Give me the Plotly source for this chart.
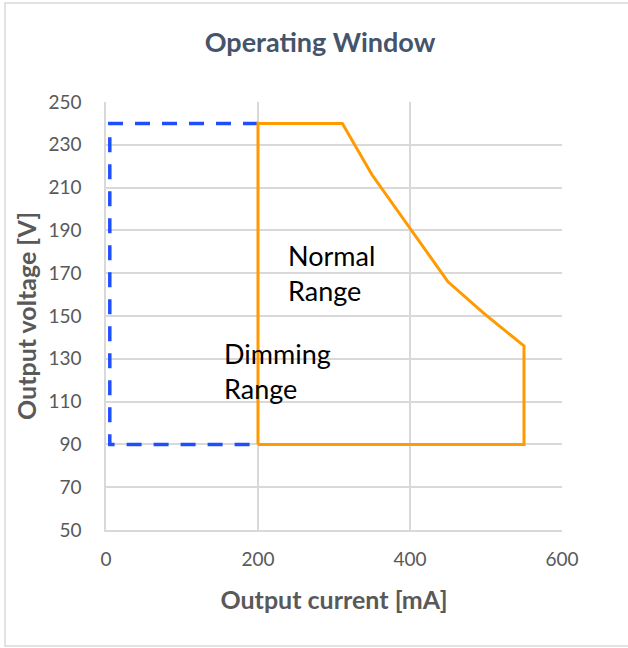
import plotly.graph_objects as go

# Data
normal_current = [200, 200, 311, 350, 450, 498, 550, 550, 200]
normal_voltage = [90, 240, 240, 216, 166, 151, 136, 90, 90]
dimming_current = [200, 5, 5, 200]
dimming_voltage = [240, 240, 90, 90]
x_ticks = [0, 200, 400, 600]
y_ticks = [50, 70, 90, 110, 130, 150, 170, 190, 210, 230, 250]

W, H = 628, 648
L, R, T, B = 106, 66, 102, 118
pw, ph = W - L - R, H - T - B

def px2paper_x(px):
    return (px - L) / pw

def px2paper_y(py):
    return (H - B - py) / ph

FONT = "Lato"
GRID = "#D9D9D9"
TXT = "#595959"

fig = go.Figure()
fig.add_trace(go.Scatter(
    x=dimming_current, y=dimming_voltage, mode="lines",
    line=dict(color="#1F4EFF", width=3.5, dash="15px,12px"),
    showlegend=False, hoverinfo="skip"))
fig.add_trace(go.Scatter(
    x=normal_current, y=normal_voltage, mode="lines",
    line=dict(color="#FF9A00", width=3),
    showlegend=False, hoverinfo="skip"))

fig.add_annotation(x=237, y=170, text="Normal<br>Range", showarrow=False,
                   xanchor="left", yanchor="middle", align="left",
                   font=dict(family=FONT, size=27, color="#000000"))
fig.add_annotation(x=153, y=124.5, text="Dimming<br>Range", showarrow=False,
                   xanchor="left", yanchor="middle", align="left",
                   font=dict(family=FONT, size=27, color="#000000"))

fig.add_shape(type="rect", xref="paper", yref="paper",
              x0=px2paper_x(5), x1=px2paper_x(640),
              y0=px2paper_y(646), y1=px2paper_y(3),
              line=dict(color="#D9D9D9", width=1.5), layer="below")

fig.update_layout(
    width=W, height=H,
    margin=dict(l=L, r=R, t=T, b=B),
    paper_bgcolor="white", plot_bgcolor="white",
    title=dict(text="<b>Operating Window</b>", x=320 / W,
               xanchor="center", y=1 - 43 / H, yanchor="middle",
               font=dict(family=FONT, size=27, color="#44546A")),
    xaxis=dict(range=[0, 600], tickvals=x_ticks, showgrid=True, gridcolor=GRID,
               gridwidth=1.5, showline=True, linecolor=GRID, linewidth=1.5,
               zeroline=False, mirror=False, ticks="outside", ticklen=11,
               tickcolor="rgba(0,0,0,0)",
               tickfont=dict(family=FONT, size=19, color=TXT),
               title=dict(text="<b>Output current [mA]</b>", standoff=23,
                          font=dict(family=FONT, size=25, color=TXT))),
    yaxis=dict(range=[50, 250], tickvals=y_ticks, showgrid=True, gridcolor=GRID,
               gridwidth=1.5, showline=True, linecolor=GRID, linewidth=1.5,
               zeroline=False, ticks="outside", ticklen=19,
               tickcolor="rgba(0,0,0,0)",
               tickfont=dict(family=FONT, size=19, color=TXT),
               title=dict(text="<b>Output voltage [V]</b>", standoff=5,
                          font=dict(family=FONT, size=25, color=TXT))),
)

fig.write_html("out.html", config={"displayModeBar": False},
               post_script="document.body.style.margin='0';document.body.style.padding='0';")
